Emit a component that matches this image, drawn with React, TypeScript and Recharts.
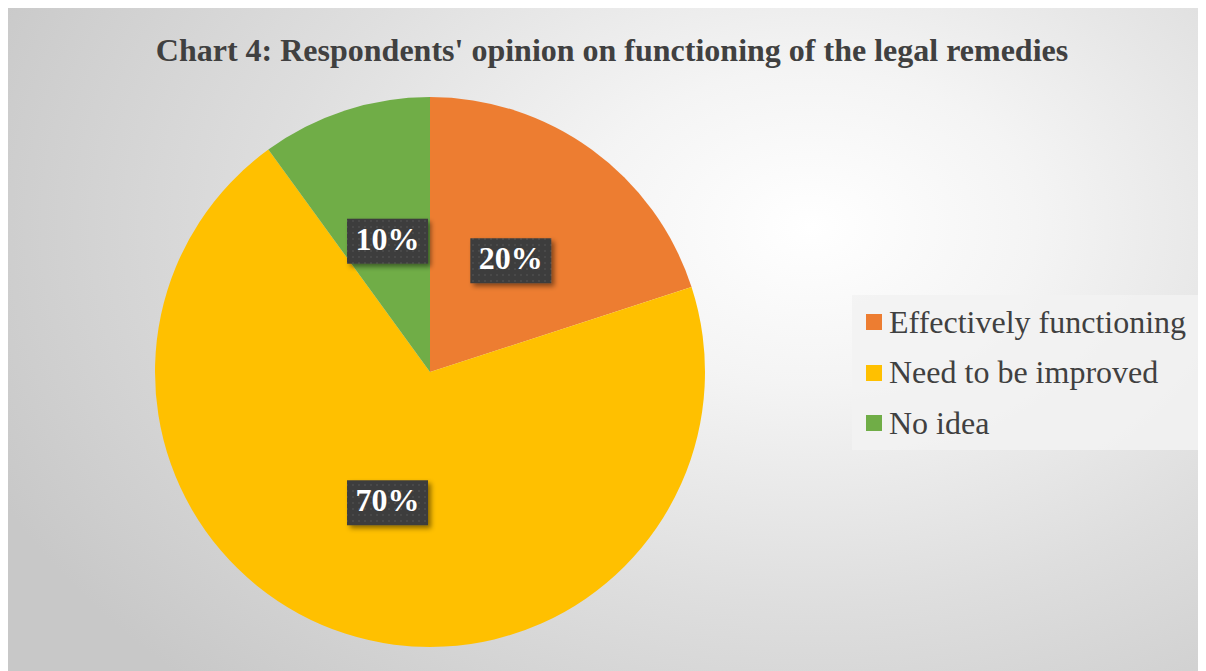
import React from "react";
import { PieChart, Pie, Cell, Legend } from "recharts";

const categories = ["Effectively functioning", "Need to be improved", "No idea"];
const values = [20, 70, 10];
const labels = ["20%", "70%", "10%"];
const colors = ["#ED7D31", "#FFC000", "#70AD47"];

const data = categories.map((name, i) => ({ name, value: values[i], label: labels[i] }));

const RAD = Math.PI / 180;
const FONT = '"Liberation Serif", "Times New Roman", serif';

const renderLabel = (props: any) => {
  const { cx, cy, midAngle, outerRadius, index } = props;
  const r = outerRadius * 0.5;
  const x = cx + r * Math.cos(-midAngle * RAD);
  const y = cy + r * Math.sin(-midAngle * RAD);
  const w = 81;
  const h = 45;
  return (
    <g key={"lbl" + index}>
      <defs>
        <pattern id={"dots" + index} width="6" height="6" patternUnits="userSpaceOnUse">
          <rect width="6" height="6" fill="#3d3d3d" />
          <rect x="2" y="2" width="2" height="2" fill="#4a4a4a" />
        </pattern>
        <filter id={"shadow" + index} x="-30%" y="-30%" width="160%" height="160%">
          <feDropShadow dx="3" dy="3" stdDeviation="2.5" floodColor="#000" floodOpacity="0.45" />
        </filter>
      </defs>
      <rect x={x - w / 2} y={y - h / 2} width={w} height={h} fill={`url(#dots${index})`} filter={`url(#shadow${index})`} />
      <text x={x} y={y + 1} textAnchor="middle" dominantBaseline="middle" fill="#ffffff" fontFamily={FONT} fontWeight="bold" fontSize={32}>
        {data[index].label}
      </text>
    </g>
  );
};

const renderLegend = () => (
  <div
    style={{
      width: 346,
      height: 155,
      background: "rgba(242,242,242,0.85)",
      boxSizing: "border-box",
      paddingTop: 2,
      paddingLeft: 14,
    }}
  >
    {data.map((d, i) => (
      <div key={d.name} style={{ display: "flex", alignItems: "center", height: 50.5 }}>
        <div style={{ width: 16, height: 16, background: colors[i], marginRight: 7 }} />
        <span style={{ fontFamily: FONT, fontSize: 32, color: "#404040", whiteSpace: "nowrap" }}>{d.name}</span>
      </div>
    ))}
  </div>
);

export default function App() {
  return (
    <div
      style={{
        position: "relative",
        width: 1198,
        height: 663,
        background:
          "radial-gradient(ellipse 75% 95% at 67% 33%, #ffffff 0%, #f4f4f4 25%, #dedede 60%, #c8c8c8 100%)",
      }}
    >
      <div
        style={{
          position: "absolute",
          top: 24,
          left: 5,
          width: 1198,
          textAlign: "center",
          fontFamily: FONT,
          fontWeight: "bold",
          fontSize: 32,
          color: "#404040",
        }}
      >
        Chart 4: Respondents' opinion on functioning of the legal remedies
      </div>
      <PieChart width={1198} height={663} style={{ position: "absolute", top: 0, left: 0 }}>
        <Pie
          data={data}
          dataKey="value"
          nameKey="name"
          cx={417}
          cy={359}
          outerRadius={275}
          startAngle={90}
          endAngle={-270}
          stroke="none"
          label={renderLabel}
          labelLine={false}
          isAnimationActive={false}
        >
          {data.map((d, i) => (
            <Cell key={d.name} fill={colors[i]} />
          ))}
        </Pie>
        <Legend
          content={renderLegend}
          layout="vertical"
          wrapperStyle={{ left: 844, top: 287, width: 346, height: 155 }}
        />
      </PieChart>
    </div>
  );
}
